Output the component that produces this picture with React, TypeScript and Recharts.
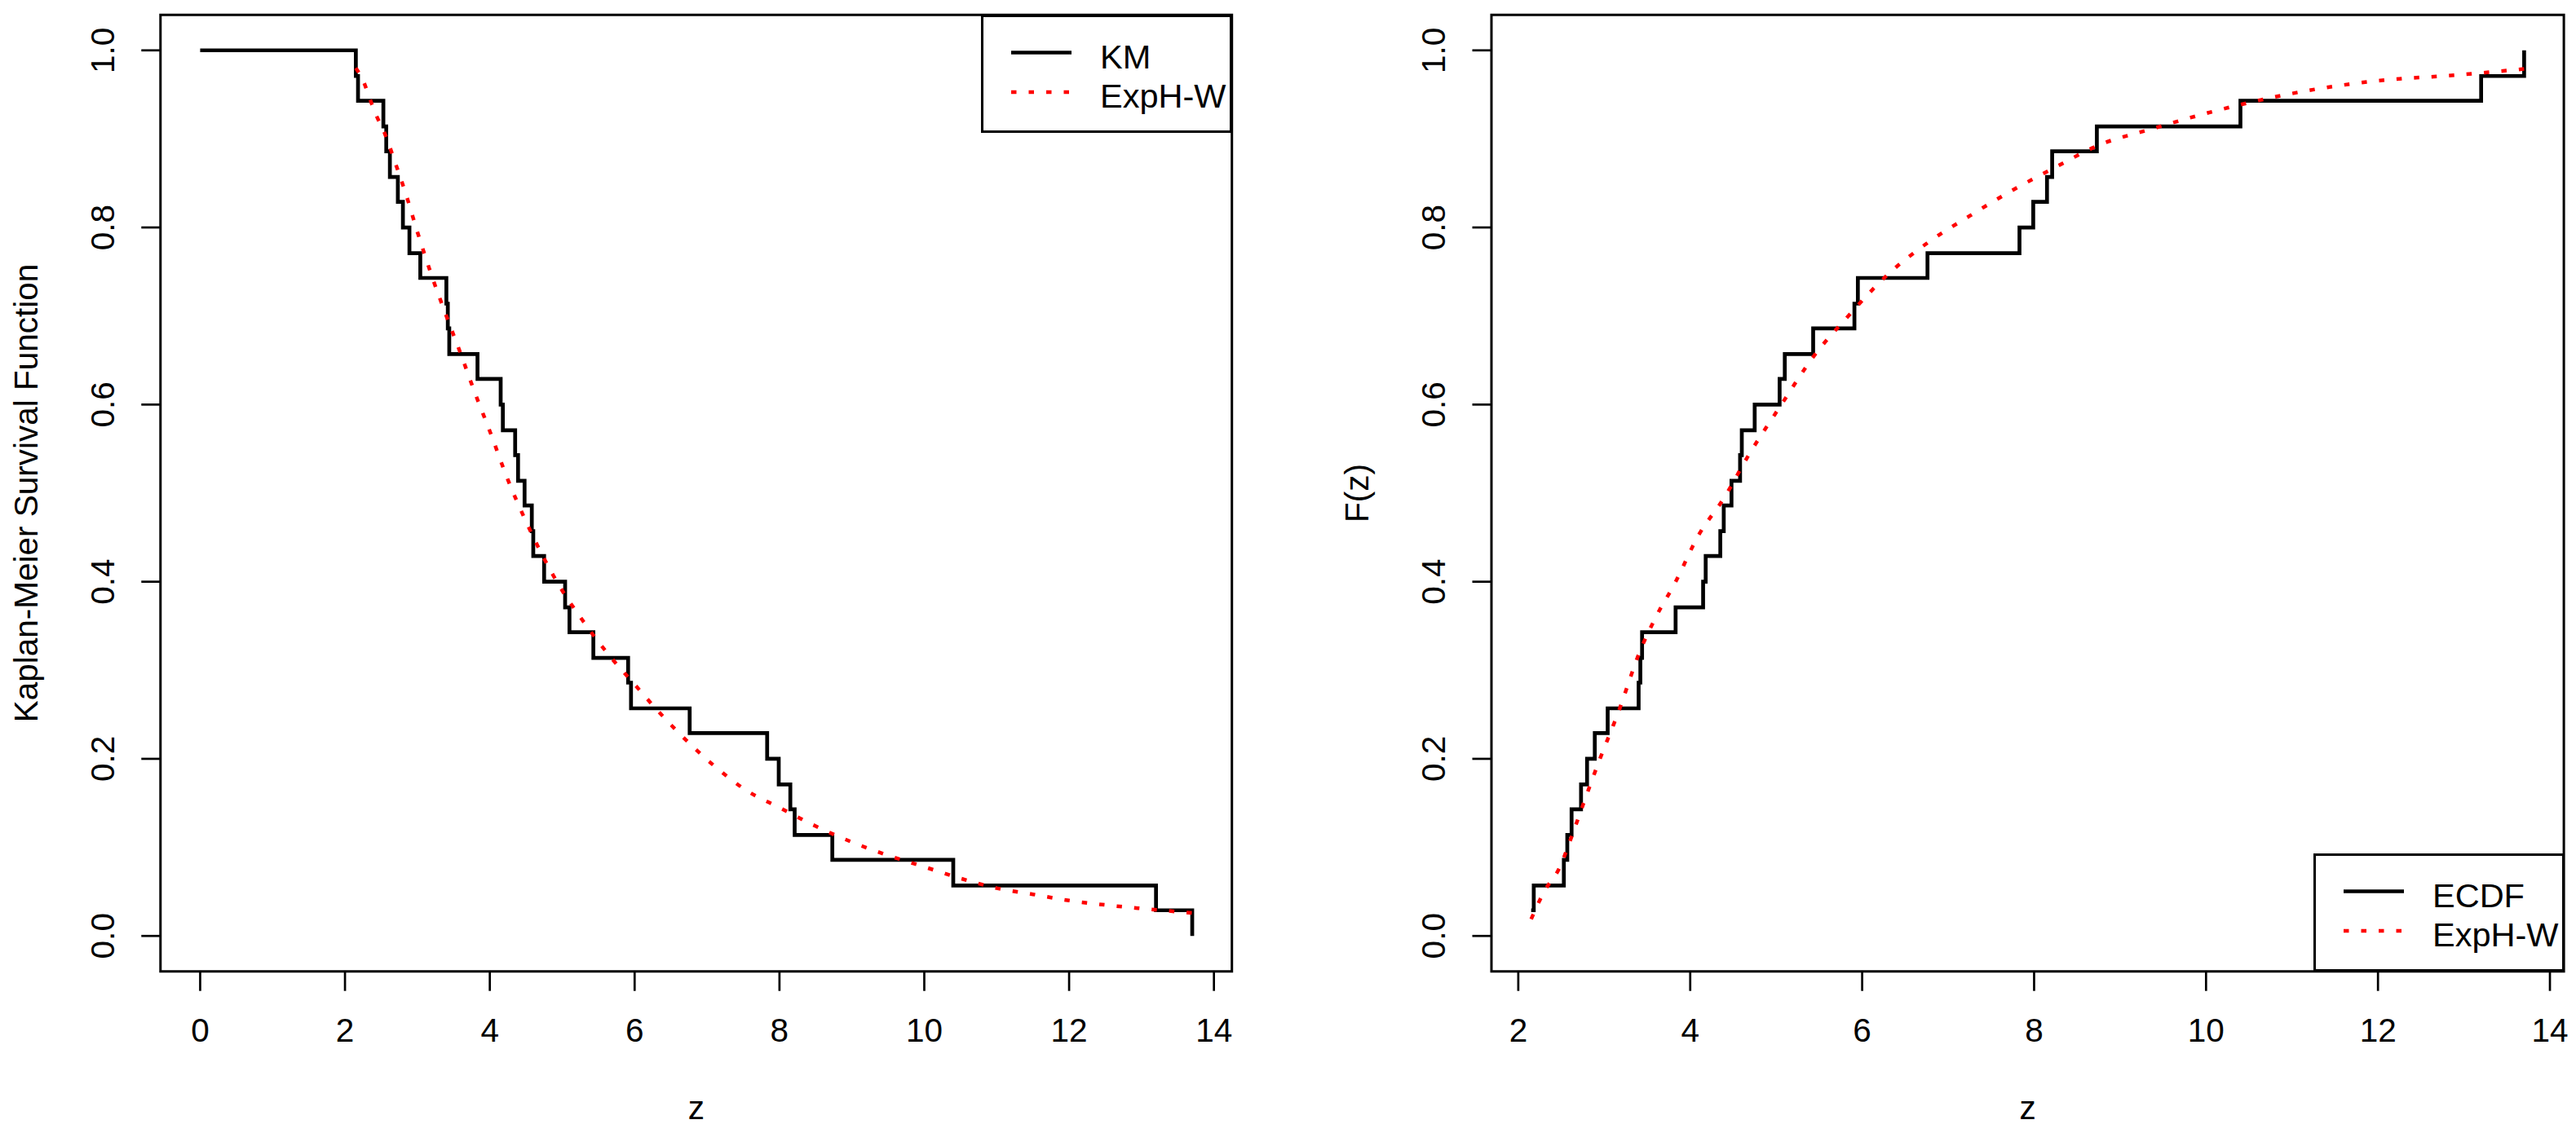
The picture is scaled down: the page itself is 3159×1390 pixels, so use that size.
import React from "react";
import { LineChart, Line, XAxis, YAxis, ReferenceArea, Legend } from "recharts";

const FONT = "'Liberation Sans', Arial, Helvetica, sans-serif";

// ---------- data ----------
// sorted observations z (n = 35)
const zObs = [
  2.15, 2.18, 2.53, 2.57, 2.62, 2.73, 2.8, 2.89, 3.04, 3.4, 3.42, 3.44, 3.83,
  4.15, 4.18, 4.35, 4.39, 4.48, 4.58, 4.6, 4.75, 5.04, 5.1, 5.43, 5.91, 5.95,
  6.76, 7.83, 7.99, 8.15, 8.21, 8.73, 10.4, 13.2, 13.7,
];

// Kaplan-Meier step values (start at z = 0)
const kmTimes = [0, ...zObs];
const kmSurv = [
  1.0, 0.971, 0.943, 0.914, 0.886, 0.857, 0.829, 0.8, 0.771, 0.743, 0.714,
  0.686, 0.657, 0.629, 0.6, 0.571, 0.543, 0.514, 0.486, 0.457, 0.429, 0.4,
  0.371, 0.343, 0.314, 0.286, 0.257, 0.229, 0.2, 0.171, 0.143, 0.114, 0.086,
  0.057, 0.029, 0.0,
];

// ECDF step values
const ecdfVals = [
  0.029, 0.057, 0.086, 0.114, 0.143, 0.171, 0.2, 0.229, 0.257, 0.286, 0.314,
  0.343, 0.371, 0.4, 0.429, 0.457, 0.486, 0.514, 0.543, 0.571, 0.6, 0.629,
  0.657, 0.686, 0.714, 0.743, 0.771, 0.8, 0.829, 0.857, 0.886, 0.914, 0.943,
  0.971, 1.0,
];

// fitted ExpH-W survival curve (left panel)
const fitSurvX = [
  2.15, 2.26, 2.34, 2.43, 2.55, 2.69, 2.84, 3.0, 3.2, 3.4, 3.6, 3.8, 4.0, 4.25,
  4.5, 4.75, 5.0, 5.25, 5.5, 5.75, 6.0, 6.3, 6.65, 7.1, 7.55, 8.0, 8.5, 9.0,
  9.5, 10.0, 10.5, 11.0, 11.5, 12.0, 12.5, 13.0, 13.7,
];
const fitSurvY = [
  0.98, 0.964, 0.946, 0.927, 0.906, 0.874, 0.838, 0.795, 0.745, 0.7, 0.657,
  0.612, 0.57, 0.515, 0.468, 0.426, 0.39, 0.36, 0.332, 0.307, 0.284, 0.256,
  0.226, 0.192, 0.164, 0.145, 0.124, 0.106, 0.091, 0.078, 0.065, 0.054, 0.047,
  0.04, 0.035, 0.031, 0.026,
];

// fitted ExpH-W cdf (right panel)
const fitCdfX = [
  2.15, 2.3, 2.48, 2.62, 2.76, 2.95, 3.15, 3.43, 3.6, 3.82, 4.1, 4.39, 4.68,
  5.06, 5.44, 5.82, 6.3, 6.78, 7.25, 7.73, 8.21, 8.78, 9.36, 9.93, 10.5, 11.27,
  12.03, 12.9, 13.7,
];
const fitCdfY = [
  0.019, 0.05, 0.077, 0.112, 0.15, 0.2, 0.249, 0.325, 0.36, 0.398, 0.453, 0.494,
  0.543, 0.6, 0.655, 0.698, 0.747, 0.784, 0.813, 0.841, 0.866, 0.894, 0.911,
  0.927, 0.941, 0.956, 0.966, 0.972, 0.979,
];

const yTicks = [0, 0.2, 0.4, 0.6, 0.8, 1.0];
const xTicksLeft = [0, 2, 4, 6, 8, 10, 12, 14];
const xTicksRight = [2, 4, 6, 8, 10, 12, 14];

const kmLabel = "KM";
const ecdfLabel = "ECDF";
const fitLabel = "ExpH-W";
const leftYTitle = "Kaplan-Meier Survival Function";
const rightYTitle = "F(z)";
const xTitle = "z";

// ---------- helpers ----------
const toPoints = (xs: number[], ys: number[]) => xs.map((x, i) => ({ x, y: ys[i] }));

const kmData = toPoints(kmTimes, kmSurv);
const ecdfData = toPoints(zObs, ecdfVals);
const fitSurvData = toPoints(fitSurvX, fitSurvY);
const fitCdfData = toPoints(fitCdfX, fitCdfY);

const padRange = (xs: number[]): [number, number] => {
  const lo = Math.min(...xs);
  const hi = Math.max(...xs);
  const r = hi - lo;
  return [lo - 0.04 * r, hi + 0.04 * r];
};

// ---------- layout ----------
const H = 1390;
const BOX_TOP = 18.3;
const BOX_BOTTOM = 1191.7;
const FS = 40.5;
const STEP_W = 4.7;
const FIT_W = 4.5;
const FIT_DASH = "6.5 15";

const YTick = (props: any) => {
  const { x, y, payload } = props;
  return (
    <text
      x={x}
      y={y}
      transform={`rotate(-90 ${x} ${y})`}
      textAnchor="middle"
      fontFamily={FONT}
      fontSize={FS}
      fill="#000"
    >
      {Number(payload.value).toFixed(1)}
    </text>
  );
};

const XTick = (props: any) => {
  const { x, y, payload } = props;
  return (
    <text x={x} y={y + 61.8} textAnchor="middle" fontFamily={FONT} fontSize={FS} fill="#000">
      {payload.value}
    </text>
  );
};

const BoxLegend = (props: any) => {
  const { payload, w, h, order } = props;
  const items = [...(payload || [])].sort(
    (a: any, b: any) => order.indexOf(a.value) - order.indexOf(b.value)
  );
  return (
    <div
      style={{
        width: w,
        height: h,
        boxSizing: "border-box",
        border: "3px solid #000",
        background: "#fff",
        position: "relative",
      }}
    >
      <svg width={w} height={h} style={{ position: "absolute", left: -3, top: -3 }}>
        {items.map((e: any, i: number) => {
          const ly = 46.5 + i * 48.5;
          const dash = e.payload && e.payload.strokeDasharray;
          return (
            <g key={i}>
              <line
                x1={37}
                x2={111}
                y1={ly}
                y2={ly}
                stroke={e.color}
                strokeWidth={dash ? FIT_W : STEP_W}
                strokeDasharray={dash || undefined}
              />
              <text x={146} y={ly + 19.3} fontFamily={FONT} fontSize={FS + 1} fill="#000">
                {e.value}
              </text>
            </g>
          );
        })}
      </svg>
    </div>
  );
};

type PanelProps = {
  left: number;
  width: number;
  boxLeft: number;
  boxRight: number;
  xDomain: [number, number];
  xTicks: number[];
  yTitle: string;
  stepData: { x: number; y: number }[];
  stepName: string;
  fitData: { x: number; y: number }[];
  legendLeft: number;
  legendTop: number;
};

function Panel(p: PanelProps) {
  const yDomain: [number, number] = [-0.04, 1.04];
  const order = [p.stepName, fitLabel];
  return (
    <div style={{ position: "absolute", left: p.left, top: 0, width: p.width, height: H }}>
      <LineChart
        width={p.width}
        height={H}
        margin={{ top: BOX_TOP, right: p.width - p.boxRight, bottom: 0, left: 0 }}
      >
        <XAxis
          type="number"
          dataKey="x"
          domain={p.xDomain}
          allowDataOverflow
          ticks={p.xTicks}
          interval={0}
          height={H - BOX_BOTTOM}
          axisLine={false}
          tickSize={24}
          tickMargin={0}
          tickLine={{ stroke: "#000", strokeWidth: 2.7 }}
          tick={<XTick />}
          label={{
            content: (lp: any) => {
              const vb = lp.viewBox || {};
              const cx = (vb.x ?? p.boxLeft) + (vb.width ?? p.boxRight - p.boxLeft) / 2;
              return (
                <text x={cx} y={BOX_BOTTOM + 181.3} textAnchor="middle" fontFamily={FONT} fontSize={FS} fill="#000">
                  {xTitle}
                </text>
              );
            },
          }}
        />
        <YAxis
          type="number"
          dataKey="y"
          domain={yDomain}
          allowDataOverflow
          ticks={yTicks}
          interval={0}
          width={p.boxLeft}
          axisLine={false}
          tickSize={23.5}
          tickMargin={33.5}
          tickLine={{ stroke: "#000", strokeWidth: 2.7 }}
          tick={<YTick />}
          label={{
            content: () => {
              const tx = p.boxLeft - 150.6;
              const ty = (BOX_TOP + BOX_BOTTOM) / 2;
              return (
                <text
                  x={tx}
                  y={ty}
                  transform={`rotate(-90 ${tx} ${ty})`}
                  textAnchor="middle"
                  fontFamily={FONT}
                  fontSize={FS}
                  fill="#000"
                >
                  {p.yTitle}
                </text>
              );
            },
          }}
        />
        <Line
          data={p.stepData}
          dataKey="y"
          name={p.stepName}
          type="stepAfter"
          stroke="#000000"
          strokeWidth={STEP_W}
          dot={false}
          activeDot={false}
          isAnimationActive={false}
          strokeLinejoin="miter"
        />
        <Line
          data={p.fitData}
          dataKey="y"
          name={fitLabel}
          type="monotone"
          stroke="#FF0000"
          strokeWidth={FIT_W}
          strokeDasharray={FIT_DASH}
          strokeLinecap="butt"
          dot={false}
          activeDot={false}
          isAnimationActive={false}
        />
        <ReferenceArea
          x1={p.xDomain[0]}
          x2={p.xDomain[1]}
          y1={yDomain[0]}
          y2={yDomain[1]}
          fill="none"
          fillOpacity={0}
          stroke="#000"
          strokeWidth={3}
          ifOverflow="visible"
        />
        <Legend
          layout="horizontal"
          verticalAlign="middle"
          align="center"
          wrapperStyle={{
            position: "absolute",
            left: p.legendLeft,
            top: p.legendTop,
            width: 308,
            height: 145,
            margin: 0,
            padding: 0,
          }}
          content={(lp: any) => <BoxLegend payload={lp.payload} w={308} h={145} order={order} />}
        />
      </LineChart>
    </div>
  );
}

export default function App() {
  const leftDomain = padRange(kmTimes);
  const rightDomain = padRange(zObs);
  return (
    <div
      style={{
        position: "absolute",
        left: 0,
        top: 0,
        width: 3159,
        height: H,
        background: "#fff",
        fontFamily: FONT,
      }}
    >
      <Panel
        left={0}
        width={1580}
        boxLeft={196.8}
        boxRight={1510.7}
        xDomain={leftDomain}
        xTicks={xTicksLeft}
        yTitle={leftYTitle}
        stepData={kmData}
        stepName={kmLabel}
        fitData={fitSurvData}
        legendLeft={1203}
        legendTop={BOX_TOP}
      />
      <Panel
        left={1580}
        width={1579}
        boxLeft={249}
        boxRight={1564.1}
        xDomain={rightDomain}
        xTicks={xTicksRight}
        yTitle={rightYTitle}
        stepData={ecdfData}
        stepName={ecdfLabel}
        fitData={fitCdfData}
        legendLeft={1256.7}
        legendTop={1047}
      />
    </div>
  );
}
